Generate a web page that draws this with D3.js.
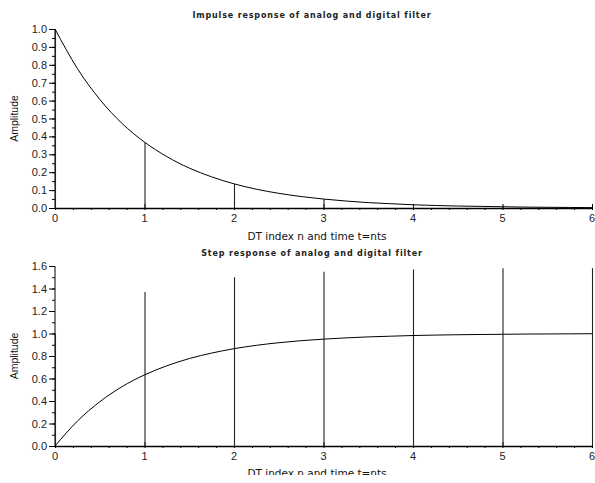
<!DOCTYPE html>
<html><head><meta charset="utf-8">
<script src="https://cdn.jsdelivr.net/npm/d3@7"></script>
<style>body{margin:0;background:#fff}svg{display:block}</style>
</head><body>
<script>
// ---- data ----
const nIndex = [0, 1, 2, 3, 4, 5, 6];
const impulseDigital = [1.0, 0.368, 0.135, 0.050, 0.018, 0.007, 0.002];
const stepDigital = [1.0, 1.37, 1.50, 1.55, 1.57, 1.58, 1.58];
const tAnalog = [0, 0.25, 0.5, 0.75, 1, 1.25, 1.5, 1.75, 2, 2.25, 2.5, 2.75, 3, 3.25, 3.5, 3.75, 4, 4.25, 4.5, 4.75, 5, 5.25, 5.5, 5.75, 6];
const impulseAnalog = [1.0, 0.779, 0.607, 0.472, 0.368, 0.287, 0.223, 0.174, 0.135, 0.105, 0.082, 0.064, 0.050, 0.039, 0.030, 0.024, 0.018, 0.014, 0.011, 0.009, 0.007, 0.005, 0.004, 0.003, 0.002];
const stepAnalog = [0.0, 0.221, 0.393, 0.528, 0.632, 0.713, 0.777, 0.826, 0.865, 0.895, 0.918, 0.936, 0.950, 0.961, 0.970, 0.976, 0.982, 0.986, 0.989, 0.991, 0.993, 0.995, 0.996, 0.997, 0.998];
const xTicks = [0, 1, 2, 3, 4, 5, 6];
const yTicksTop = [0, 0.1, 0.2, 0.3, 0.4, 0.5, 0.6, 0.7, 0.8, 0.9, 1.0];
const yTicksBottom = [0, 0.2, 0.4, 0.6, 0.8, 1.0, 1.2, 1.4, 1.6];
const titles = ["Impulse response of analog and digital filter", "Step response of analog and digital filter"];
const xLabel = "DT index n and time t=nts";
const yLabel = "Amplitude";

const W = 595, H = 483;
const svg = d3.select("body").append("svg").attr("width", W).attr("height", H);
svg.append("defs").append("clipPath").attr("id", "pageclip")
  .append("rect").attr("x", 0).attr("y", 0).attr("width", W).attr("height", 475);
const root = svg.append("g").attr("clip-path", "url(#pageclip)");

const x = d3.scaleLinear().domain([0, 6]).range([55, 592]);

function panel(cfg) {
  const y = d3.scaleLinear().domain(cfg.ydom).range(cfg.yrange);
  const g = root.append("g");
  // title
  g.append("text").attr("x", 312).attr("y", cfg.titleY).attr("text-anchor", "middle")
    .attr("font-family", "DejaVu Sans").attr("font-weight", "bold").attr("font-size", 8)
    .attr("letter-spacing", 0.85).attr("fill", "#222").text(cfg.title);
  // x label
  g.append("text").attr("x", 317).attr("y", cfg.xlabY).attr("text-anchor", "middle")
    .attr("font-family", "DejaVu Sans").attr("font-size", 10.5).attr("fill", "#111").text(xLabel);
  // y label
  g.append("text").attr("transform", `translate(18,${(cfg.yrange[0] + cfg.yrange[1]) / 2}) rotate(-90)`)
    .attr("text-anchor", "middle").attr("font-family", "Liberation Sans").attr("font-size", 10.5)
    .attr("fill", "#111").text(yLabel);

  // y axis
  const minorY = d3.range(cfg.ydom[0], cfg.ydom[1] + 1e-9, cfg.ystep / 2);
  const yAxisMinor = d3.axisLeft(y).tickValues(minorY).tickSize(3).tickFormat("");
  const ya = g.append("g").attr("transform", "translate(55,0)").call(yAxisMinor);
  ya.select(".domain").remove();
  ya.selectAll("line").attr("stroke", "#000");
  const yAxis = d3.axisLeft(y).tickValues(cfg.yticks).tickSize(6).tickPadding(2).tickFormat(d3.format(".1f"));
  const yb = g.append("g").attr("transform", "translate(55,0)").call(yAxis);
  yb.select(".domain").remove();
  yb.selectAll("line").attr("stroke", "#000");
  yb.selectAll("text").attr("font-family", "Liberation Sans").attr("font-size", 11).attr("fill", "#222");
  g.append("line").attr("x1", 55).attr("x2", 55).attr("y1", cfg.yrange[0]).attr("y2", cfg.yrange[1]).attr("stroke", "#000");

  // x axis
  const base = cfg.yrange[0];
  const minorX = d3.range(0, 6 + 1e-9, 0.2);
  const xaMinor = d3.axisBottom(x).tickValues(minorX).tickSize(2).tickFormat("");
  const xa = g.append("g").attr("transform", `translate(0,${base})`).call(xaMinor);
  xa.select(".domain").remove();
  xa.selectAll("line").attr("stroke", "#000");
  const xaMajor = d3.axisTop(x).tickValues(xTicks).tickSize(4).tickFormat("");
  const xb = g.append("g").attr("transform", `translate(0,${base})`).call(xaMajor);
  xb.select(".domain").remove();
  xb.selectAll("line").attr("stroke", "#000");
  g.append("g").selectAll("text").data(xTicks).join("text")
    .attr("x", d => x(d)).attr("y", base + 14).attr("text-anchor", "middle")
    .attr("font-family", "Liberation Sans").attr("font-size", 11).attr("fill", "#222").text(d => d);
  g.append("line").attr("x1", 55).attr("x2", 592).attr("y1", base + 0.5).attr("y2", base + 0.5).attr("stroke", "#000").attr("stroke-width", 1.3);

  // stems
  g.append("g").selectAll("line").data(nIndex).join("line")
    .attr("x1", d => x(d) + 0.5).attr("x2", d => x(d) + 0.5)
    .attr("y1", y(0)).attr("y2", (d, i) => y(cfg.digital[i]))
    .attr("stroke", "#222").attr("stroke-width", 1.1);

  // analog curve
  const line = d3.line().x((d, i) => x(tAnalog[i])).y(d => y(d)).curve(d3.curveMonotoneX);
  g.append("path").datum(cfg.analog).attr("d", line).attr("fill", "none")
    .attr("stroke", "#000").attr("stroke-width", 1);
}

panel({ title: titles[0], titleY: 18, xlabY: 240, ydom: [0, 1], yrange: [208, 29], ystep: 0.1,
  yticks: yTicksTop, digital: impulseDigital, analog: impulseAnalog });
panel({ title: titles[1], titleY: 256, xlabY: 477, ydom: [0, 1.6], yrange: [446, 266], ystep: 0.2,
  yticks: yTicksBottom, digital: stepDigital, analog: stepAnalog });
</script>
</body></html>
